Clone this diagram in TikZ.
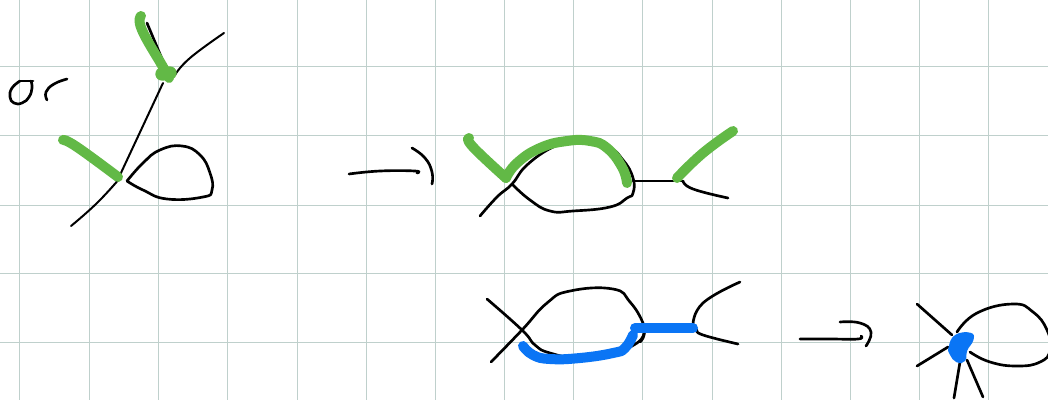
\documentclass[tikz,border=0pt]{standalone}
\definecolor{gridc}{HTML}{BFD0CC}
\definecolor{penG}{HTML}{62B946}
\definecolor{penB}{HTML}{0A75F5}
\tikzset{
 gridline/.style={draw=gridc,line width=0.65pt},
 ink/.style={draw=black,line width=2pt,line cap=round,line join=round},
 thin ink/.style={draw=black,line width=1.5pt,line cap=round,line join=round},
 greenpen/.style={draw=penG,line width=7.5pt,line cap=round,line join=round},
 bluepen/.style={draw=penB,line width=7.5pt,line cap=round,line join=round},
 curve/.style={smooth,tension=0.8}
}
\begin{document}
\begin{tikzpicture}[x=0.75pt,y=-0.75pt]
\useasboundingbox (0,0) rectangle (1048,400);
\fill[white] (0,0) rectangle (1048,400);
\clip (0,0) rectangle (1048,400);
% grid
\foreach \gx in {19,89,158,227,297,366,435,504,573,642,712,781,850,919,988}
  \draw[gridline] (\gx,0) -- (\gx,400);
\foreach \gy in {66,135,205,273,342}
  \draw[gridline] (0,\gy) -- (1048,\gy);
% "or"
\draw[ink] plot[curve] coordinates {(20,81)(12,88)(10,97)(14,103)(22,103)(29,97)(32,88)(31,81)};
\draw[ink] (20,81) -- (33,81);
\draw[ink] plot[curve] coordinates {(47,100)(46,92)(54,84)(67,79)};
% first graph
\draw[thin ink] plot[curve] coordinates {(71,226)(97,203)(120,178)};
\draw[thin ink] (120,175) -- (163,83);
\draw[ink] (147,23) -- (165,66);
\draw[thin ink] plot[curve] coordinates {(175,75)(190,58)(224,33)};
\draw[ink] plot[curve] coordinates {(127,181)(143,163)(160,150)(182,146)(200,155)(210,173)(212,190)(203,197)(167,199)(143,190)(127,181)};
\draw[greenpen] plot[curve] coordinates {(141,16)(142,30)(163,67)(169,78)};
\draw[greenpen,line width=10pt] (162,74) -- (170,73);
\draw[greenpen] plot[curve] coordinates {(63,140)(77,147)(118,177)};
% first arrow
\draw[ink] plot[curve] coordinates {(349,174)(380,171)(415,171)(417,173)};
\draw[ink] plot[curve] coordinates {(412,148)(425,158)(432,172)(432,184)};
% second graph
\draw[ink] plot[curve] coordinates {(480,216)(497,197)(512,184)(527,165)(553,147)(573,142)(607,147)(623,160)(633,178)(633,193)(627,198)(610,207)(573,211)(550,211)(530,200)(512,184)};
\draw[ink] (633,181) -- (683,181);
\draw[ink] plot[curve] coordinates {(683,181)(693,189)(728,198)};
\draw[greenpen] plot[curve] coordinates {(469,138)(473,147)(506,178)};
\draw[greenpen] plot[curve] coordinates {(506,178)(517,163)(540,148)(567,141)(590,141)(607,148)(622,167)(627,183)};
\draw[greenpen] plot[curve] coordinates {(677,178)(703,153)(733,131)};
% third graph
\draw[ink] plot[curve] coordinates {(487,299)(522,330)(535,345)(550,353)(580,358)(613,353)(637,343)(644,333)};
\draw[ink] plot[curve] coordinates {(491,362)(522,330)(547,303)(570,291)(613,289)(630,302)(643,323)(644,335)(640,342)};
\draw[ink] plot[curve] coordinates {(693,325)(703,303)(740,282)};
\draw[ink] plot[curve] coordinates {(697,330)(703,335)(738,344)};
\draw[bluepen] plot[curve] coordinates {(523,346)(533,355)(550,359)(580,358)(613,353)(625,348)(633,335)};
\draw[bluepen] (635,328) -- (693,328);
% third arrow
\draw[ink] plot[curve] coordinates {(800,339)(830,339)(858,339)(861,336)};
\draw[ink] plot[curve] coordinates {(840,322)(860,323)(871,332)(866,346)};
% fourth graph
\draw[ink] (917,304) -- (952,335);
\draw[ink] (917,366) -- (948,347);
\draw[ink] (960,362) -- (954,398);
\draw[ink] (967,360) -- (983,397);
\draw[ink] plot[curve] coordinates {(957,332)(977,313)(1013,304)(1033,312)(1047,330)(1050,350)(1040,362)(1017,366)(990,362)(970,352)};
\filldraw[fill=penB,draw=penB,line width=2pt,line join=round] plot[smooth cycle,tension=0.8] coordinates {(950,347)(956,336)(970,334)(972,340)(966,350)(964,360)(957,361)(951,354)};
\end{tikzpicture}
\end{document}
